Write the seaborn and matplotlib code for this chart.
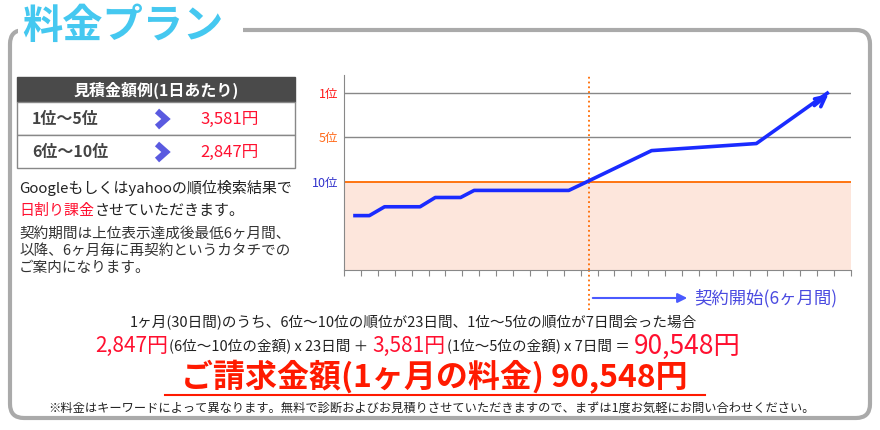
import matplotlib
matplotlib.use("Agg")
import matplotlib.pyplot as plt
import seaborn as sns
import pandas as pd
from matplotlib.patches import FancyBboxPatch, Rectangle

plt.rcParams["font.family"] = "Noto Sans CJK JP"

# data
days = [0.65, 1.5, 2.4, 4.5, 5.4, 6.9, 7.7, 13.3, 14.4, 18.2, 24.4, 28.6]
rank_level = [0.23, 0.23, 0.43, 0.43, 0.64, 0.64, 0.80, 0.80, 1.0, 1.7, 1.86, 3.0]
rank_ticks = [3, 2, 1]
rank_labels = ["1位", "5位", "10位"]
rank_colors = ["#ff1a1a", "#ff6a1a", "#3333cc"]
contract_start = 14.5
table_rows = ["1位～5位", "6位～10位"]
table_prices = ["3,581円", "2,847円"]

W, H = 880, 430
fig = plt.figure(figsize=(W / 100, H / 100), dpi=100)
bg = fig.add_axes([0, 0, 1, 1])
bg.set_xlim(0, W); bg.set_ylim(H, 0); bg.axis("off")
renderer = fig.canvas.get_renderer()


def chain(x, y, parts, target=None):
    """parts: list of (text, size, color, weight). Place sequentially; optional centering width."""
    items = []
    cx = x
    for t, s, c, w in parts:
        tx = bg.text(cx, y, t, fontsize=s, color=c, fontweight=w, va="center", zorder=6)
        bb = tx.get_window_extent(renderer)
        cx = bb.x1 + 1
        items.append(tx)
    return items


# rounded border
bg.add_patch(FancyBboxPatch((10, 30), 860, 388, boxstyle="round,pad=0,rounding_size=14",
                            fc="white", ec="#aaaaaa", lw=3))
bg.add_patch(Rectangle((18, 3), 225, 44, fc="white", ec="none"))
bg.text(22, 26, "料金プラン", fontsize=29, fontweight="bold", color="#45c8f0", va="center")

# table
bg.add_patch(Rectangle((17, 77), 278, 25, fc="#4a4a4a", ec="#4a4a4a"))
bg.text(156, 90, "見積金額例(1日あたり)", color="white", fontsize=11.5, fontweight="bold", ha="center", va="center")
for i, (r, p) in enumerate(zip(table_rows, table_prices)):
    y0 = 102 + 33 * i
    bg.add_patch(Rectangle((17, y0), 278, 33, fc="white", ec="#888888", lw=1))
    bg.text(32, y0 + 17, r, fontsize=11.5, fontweight="bold", color="#444444", va="center")
    bg.plot([157, 166, 157], [y0 + 9, y0 + 17, y0 + 25], color="#5a5ae0", lw=4.5,
            solid_joinstyle="miter", solid_capstyle="butt")
    bg.text(200, y0 + 17, p, fontsize=12, color="#ff1030", va="center")

bg.text(19, 188, "Googleもしくはyahooの順位検索結果で", fontsize=10.8, color="#222222", va="center")
chain(19, 211, [("日割り課金", 10.8, "#ff1030", "normal"), ("させていただきます。", 10.8, "#222222", "normal")])
for j, t in enumerate(["契約期間は上位表示達成後最低6ヶ月間、", "以降、6ヶ月毎に再契約というカタチでの", "ご案内になります。"]):
    bg.text(19, 234 + 17 * j, t, fontsize=10.5, color="#333333", va="center")

# chart
ax = fig.add_axes([344 / W, 1 - 270 / H, 507 / W, 195 / H])
ax.set_xlim(0, 30); ax.set_ylim(-1, 3.41)
ax.axhspan(-1, 1, color="#fde6dc", zorder=0)
for t in rank_ticks:
    ax.axhline(t, color="#ff6a00" if t == 1 else "#888888", lw=1.3 if t == 1 else 1, zorder=1)
df = pd.DataFrame({"day": days, "rank": rank_level})
sns.lineplot(data=df, x="day", y="rank", ax=ax, color="#1a2bff", lw=2.6, zorder=3)
ax.annotate("", xy=(days[-1] + 0.2, rank_level[-1] + 0.02), xytext=(days[-2] + 3.3, rank_level[-2] + 0.82),
            arrowprops=dict(arrowstyle="->", color="#1a2bff", lw=2.6, mutation_scale=18), zorder=4)
ax.axvline(contract_start, color="#ff6a00", ls=":", lw=1.3, zorder=2)
ax.set_yticks(rank_ticks)
ax.set_yticklabels(rank_labels)
for lab, c in zip(ax.get_yticklabels(), rank_colors):
    lab.set_color(c); lab.set_fontsize(9)
ax.tick_params(axis="y", length=0, pad=4)
ax.set_xticks(range(0, 31))
ax.set_xticklabels([])
ax.tick_params(axis="x", length=4, color="#888888")
for s in ["top", "right"]:
    ax.spines[s].set_visible(False)
ax.spines["left"].set_color("#888888"); ax.spines["bottom"].set_color("#888888")
ax.set_xlabel(""); ax.set_ylabel("")

chain(425, 217, [("10位以下は無料", 19, "#1a2bff", "bold"), ("0", 28, "#1a2bff", "bold"),
                 ("円です", 18, "#1a2bff", "bold")])
bg.text(596, 245, "完全成功報酬型SEOプラン！", fontsize=12.5, fontweight="bold", color="#1a2bff",
        ha="center", va="center", zorder=6)

# below chart
bg.plot([589, 589], [270, 310], color="#ff6a00", ls=":", lw=1.3)
bg.annotate("", xy=(690, 298), xytext=(590, 298),
            arrowprops=dict(arrowstyle="-|>", color="#4a5aff", lw=1.5, mutation_scale=14))
bg.text(694, 298, "契約開始(6ヶ月間)", fontsize=12.5, color="#4a4ae0", va="center")

bg.text(130, 322, "1ヶ月(30日間)のうち、6位～10位の順位が23日間、1位～5位の順位が7日間会った場合",
        fontsize=10.5, color="#222222", va="center")
chain(95, 346, [("2,847円", 15, "#ff1030", "normal"), ("(6位～10位の金額) x 23日間 ＋ ", 10.5, "#222222", "normal"),
                ("3,581円", 15, "#ff1030", "normal"), ("(1位～5位の金額) x 7日間 ＝ ", 10.5, "#222222", "normal"),
                ("90,548円", 19, "#ff1030", "normal")])
bg.text(434, 377, "ご請求金額(1ヶ月の料金) 90,548円", fontsize=23, fontweight="bold", color="#ff1a00",
        ha="center", va="center")
bg.plot([165, 705], [395, 395], color="#ff1a00", lw=1.5)
bg.text(432, 408, "※料金はキーワードによって異なります。無料で診断およびお見積りさせていただきますので、まずは1度お気軽にお問い合わせください。",
        fontsize=8.8, color="#222222", ha="center", va="center")

fig.savefig("out.png", dpi=100)
